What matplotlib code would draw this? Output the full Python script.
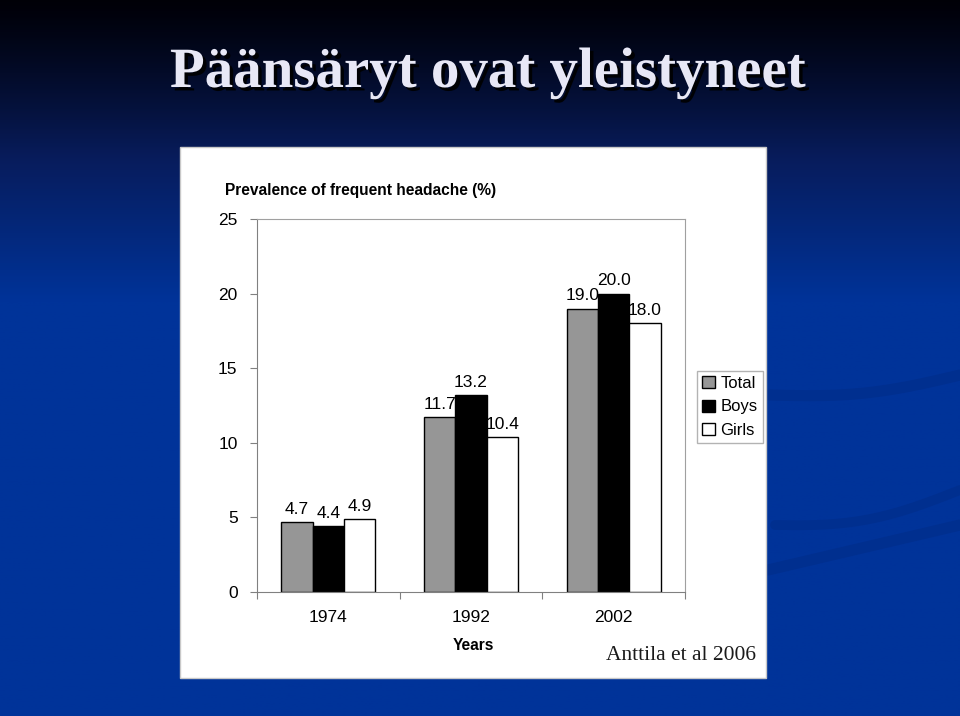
import numpy as np
import matplotlib
matplotlib.use("Agg")
import matplotlib.pyplot as plt
from matplotlib.patches import Rectangle, Patch
import matplotlib.patheffects as pe

categories = ["1974", "1992", "2002"]
series_names = ["Total", "Boys", "Girls"]
total = [4.7, 11.7, 19.0]
boys = [4.4, 13.2, 20.0]
girls = [4.9, 10.4, 18.0]
yticks = [0, 5, 10, 15, 20, 25]

W, H = 960, 716
fig = plt.figure(figsize=(W / 100, H / 100), dpi=100)

# background gradient
bg = fig.add_axes([0, 0, 1, 1])
ys = np.linspace(0, 1, 400)
top = np.array([0.0, 0.0, 0.03])
mid = np.array([0.03, 0.11, 0.36])
bot = np.array([0.0, 0.20, 0.60])
cols = []
for y in ys:
    if y < 0.22:
        t = (y / 0.22) ** 1.2
        c = top * (1 - t) + mid * t
    elif y < 0.42:
        t = (y - 0.22) / 0.20
        c = mid * (1 - t) + bot * t
    else:
        c = bot
    cols.append(c)
grad = np.array(cols)[:, None, :].repeat(2, axis=1)
bg.imshow(grad, aspect="auto", extent=[0, W, H, 0])
# subtle swooshes
tt = np.linspace(0, 1, 200)
sw = (0.0, 0.185, 0.56)
bg.plot(770 + 190 * tt, 395 - 20 * tt + 8 * np.sin(np.pi * tt), color=sw, lw=8, solid_capstyle="round")
bg.plot(775 + 185 * tt, 525 - 35 * tt + 12 * np.sin(np.pi * tt), color=sw, lw=7, solid_capstyle="round")
bg.plot(768 + 192 * tt, 570 - 45 * tt, color=sw, lw=8, solid_capstyle="round")
bg.set_xlim(0, W)
bg.set_ylim(H, 0)
bg.axis("off")

# white panel
fig.patches.append(Rectangle((180 / W, 1 - 678 / H), (766 - 180) / W, (678 - 147) / H,
                             transform=fig.transFigure, facecolor="white",
                             edgecolor="#c8c8c8", lw=1, zorder=1))

# slide title
fig.text(488 / W, 1 - 73 / H, "Päänsäryt ovat yleistyneet", family="Liberation Serif",
         weight="bold", fontsize=41, color="#e8e8f6", ha="center", va="center",
         path_effects=[pe.withSimplePatchShadow(offset=(2.5, -2.5), shadow_rgbFace="black", alpha=0.9)])

ax = fig.add_axes([257 / W, 1 - 592 / H, (685 - 257) / W, (592 - 219) / H], zorder=2)
ax.set_facecolor("white")
x = np.arange(len(categories))
bw = 0.22
offsets = [-bw, 0, bw]
colors = ["#969696", "#000000", "#ffffff"]
for vals, off, col, name in zip([total, boys, girls], offsets, colors, series_names):
    bars = ax.bar(x + off, vals, width=bw, color=col, edgecolor="black", lw=1, label=name)
    for b, v in zip(bars, vals):
        ax.text(b.get_x() + b.get_width() / 2, v + 0.35, f"{v:.1f}", ha="center", va="bottom",
                fontsize=12.5, family="Liberation Sans")

ax.set_xlim(-0.5, 2.5)
ax.set_ylim(0, 25)
ax.set_yticks(yticks)
ax.set_yticklabels([str(v) for v in yticks], fontsize=12.5, family="Liberation Sans")
ax.set_xticks([-0.5, 0.5, 1.5, 2.5])
ax.set_xticklabels([])
ax.set_xticks(x, minor=True)
ax.set_xticklabels(categories, minor=True, fontsize=12.5, family="Liberation Sans")
ax.tick_params(axis="x", which="minor", length=0, pad=13)
ax.tick_params(axis="x", which="major", length=5, color="#808080", direction="out")
ax.tick_params(axis="y", length=5, color="#808080", pad=9)
for s in ["left", "bottom"]:
    ax.spines[s].set_color("#808080")
for s in ["top", "right"]:
    ax.spines[s].set_color("#a0a0a0")

fig.text(225 / W, 1 - 190 / H, "Prevalence of frequent headache (%)", fontsize=11.2,
         weight="bold", family="Liberation Sans", ha="left", va="center", zorder=3)
fig.text(473 / W, 1 - 645 / H, "Years", fontsize=11.2, weight="bold",
         family="Liberation Sans", ha="center", va="center", zorder=3)
fig.text(681 / W, 1 - 655 / H, "Anttila et al 2006", fontsize=15.5,
         family="Liberation Serif", ha="center", va="center", color="#1a1a1a", zorder=3)

handles = [Patch(facecolor=c, edgecolor="black", label=n) for c, n in zip(colors, series_names)]
leg = fig.legend(handles=handles, loc="center", bbox_to_anchor=(730 / W, 1 - 407 / H),
                 prop={"family": "Liberation Sans", "size": 12}, frameon=True, fancybox=False,
                 handlelength=0.75, handleheight=0.75, handletextpad=0.35, borderpad=0.3,
                 labelspacing=0.5, borderaxespad=0)
leg.get_frame().set_edgecolor("#a0a0a0")
leg.get_frame().set_linewidth(1)
leg.set_zorder(4)

fig.savefig("out.png", dpi=100)
